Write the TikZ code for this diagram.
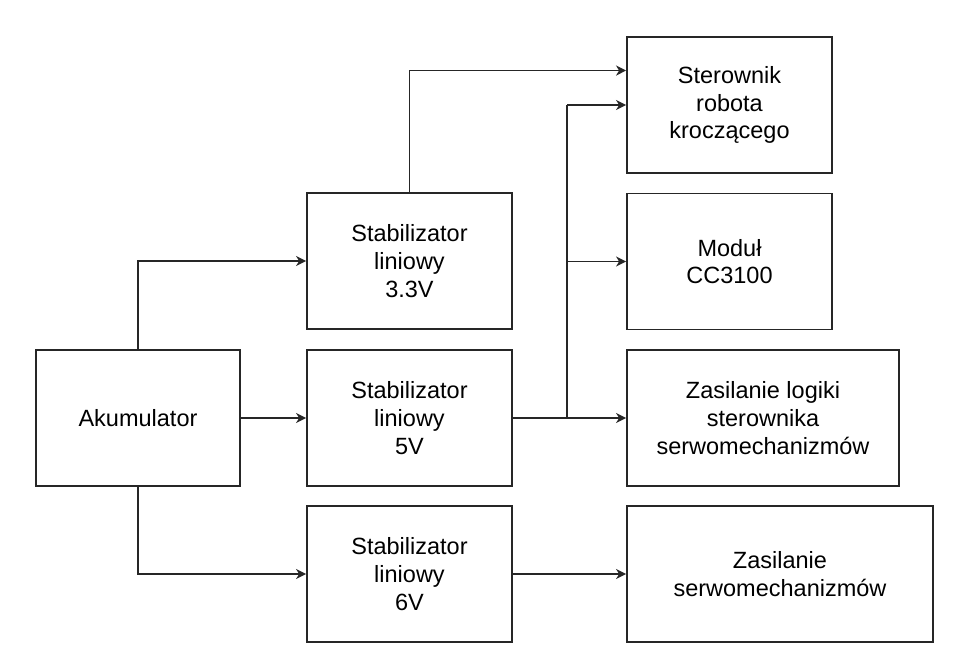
\documentclass[tikz,border=0pt]{standalone}
\usepackage{fontspec}
\setmainfont{Liberation Sans}
\usetikzlibrary{arrows.meta,calc}
\begin{document}
\begin{tikzpicture}[x=1pt,y=-1pt,
  box/.style={draw=black!85, line width=1.8pt, fill=white, minimum height=136pt, align=center, inner sep=0pt,
    font=\fontsize{23.5}{27.6}\selectfont},
  conn/.style={draw=black!85, line width=1.8pt, -{Stealth[length=10pt,width=10pt,inset=3pt]}},
  plain/.style={draw=black!85, line width=1.8pt}]
\useasboundingbox (0,0) rectangle (962,672);
\node[box, minimum width=204pt] (akum) at (138,418) {Akumulator};
\node[box, minimum width=205pt] (s33) at (409.5,261) {Stabilizator\\liniowy\\3.3V};
\node[box, minimum width=205pt] (s5) at (409.5,418) {Stabilizator\\liniowy\\5V};
\node[box, minimum width=205pt] (s6) at (409.5,574) {Stabilizator\\liniowy\\6V};
\node[box, minimum width=205pt] (ster) at (729.5,105) {Sterownik\\robota\\kroczącego};
\node[box, minimum width=205pt] (cc) at (729.5,261.5) {Moduł\\CC3100};
\node[box, minimum width=272pt] (log) at (763,418) {Zasilanie logiki\\sterownika\\serwomechanizmów};
\node[box, minimum width=306pt] (serwo) at (780,574) {Zasilanie\\serwomechanizmów};
\coordinate (sterin) at ($(ster.north west)!0.25!(ster.south west)$);
\coordinate (bus) at (567,418);
\coordinate (bustop) at (bus |- ster.west);
\draw[conn] (akum.north) |- (s33.west);
\draw[conn] (akum.east) -- (s5.west);
\draw[conn] (akum.south) |- (s6.west);
\draw[conn] (s33.north) |- (sterin);
\draw[conn] (s5.east) -- (log.west);
\draw[plain] (bus) -- (bustop);
\draw[conn] (bustop) -- (ster.west);
\draw[conn] (bus |- cc.west) -- (cc.west);
\draw[conn] (s6.east) -- (serwo.west);
\end{tikzpicture}
\end{document}
